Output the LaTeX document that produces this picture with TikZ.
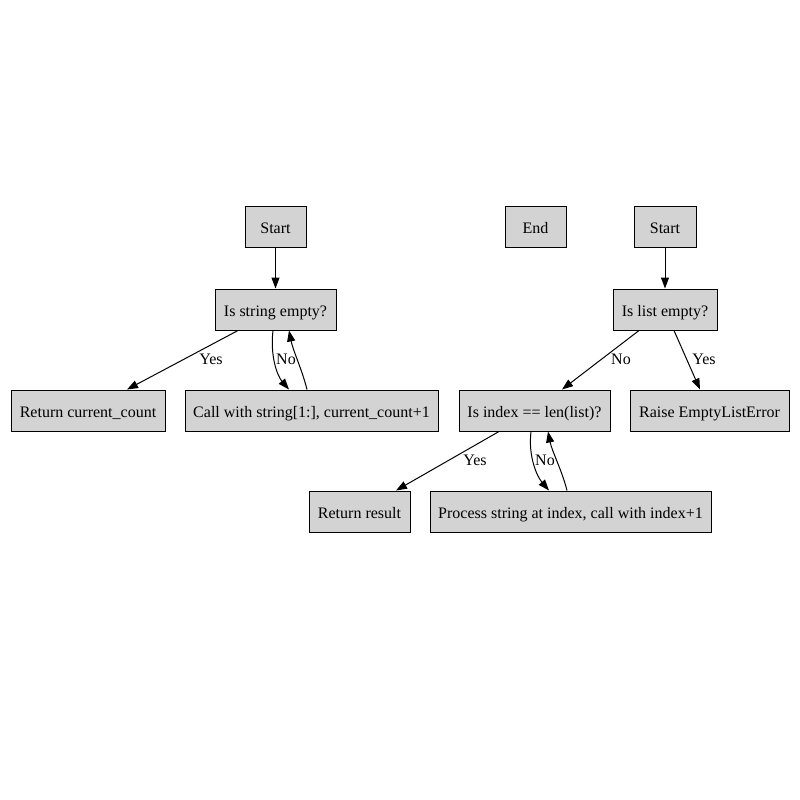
\documentclass[tikz,border=0pt]{standalone}
\usepackage{fontspec}
\setmainfont{Liberation Serif}
\usetikzlibrary{arrows.meta,calc}
\begin{document}
\begin{tikzpicture}[x=1pt,y=-1pt,
  box/.style={draw=black,fill={rgb,255:red,211;green,211;blue,211},line width=1pt,minimum height=41pt,inner sep=0pt,text height=14.5pt,text depth=1.5pt,font=\fontsize{16}{18}\selectfont},
  arr/.style={line width=1pt,-{Triangle[length=11pt,width=8pt]}},
  lbl/.style={inner sep=0pt,text height=14.5pt,text depth=1.5pt,font=\fontsize{16}{18}\selectfont}]
\useasboundingbox[fill=white] (0,0) rectangle (800,800);
% left graph
\node[box,minimum width=61pt] (s1) at (275.5,226.5) {Start};
\node[box,minimum width=121pt] (ise) at (275.5,309.5) {Is string empty?};
\node[box,minimum width=154pt] (rcc) at (88,410.5) {Return current\_count};
\node[box,minimum width=253pt] (cw) at (311.5,410.5) {Call with string[1:], current\_count+1};
% end
\node[box,minimum width=61pt] (e) at (535.5,226.5) {End};
% right graph
\node[box,minimum width=62pt] (s2) at (665,226.5) {Start};
\node[box,minimum width=104pt] (ile) at (665,309.5) {Is list empty?};
\node[box,minimum width=151pt] (ii) at (534.5,410.5) {Is index == len(list)?};
\node[box,minimum width=159pt] (re) at (709.5,410.5) {Raise EmptyListError};
\node[box,minimum width=101pt] (rr) at (359.5,511.5) {Return result};
\node[box,minimum width=281pt] (ps) at (570.5,511.5) {Process string at index, call with index+1};
% edges left
\draw[arr] (s1) -- (ise);
\draw[arr] ([xshift=-37.5pt]ise.south) -- ([xshift=39pt]rcc.north) node[lbl] at (211,358) {Yes};
\draw[arr] ([xshift=-2.5pt]ise.south) .. controls +(-3,25) and +(-12,-14) .. ([xshift=-22.5pt]cw.north) node[lbl] at (286,358) {No};
\draw[arr] ([xshift=-4.5pt]cw.north) .. controls +(-5,-20) and +(4,20) .. ([xshift=13.5pt]ise.south);
% edges right
\draw[arr] (s2) -- (ile);
\draw[arr] ([xshift=-26pt]ile.south) -- ([xshift=27.5pt]ii.north) node[lbl] at (621,358) {No};
\draw[arr] ([xshift=9pt]ile.south) -- ([xshift=-9.5pt]re.north) node[lbl] at (704,358) {Yes};
\draw[arr] ([xshift=-35.5pt]ii.south) -- ([xshift=36.5pt]rr.north) node[lbl] at (475,459) {Yes};
\draw[arr] ([xshift=-3.5pt]ii.south) .. controls +(-3,25) and +(-12,-14) .. ([xshift=-21.5pt]ps.north) node[lbl] at (545,459) {No};
\draw[arr] ([xshift=-3.5pt]ps.north) .. controls +(-5,-20) and +(4,20) .. ([xshift=13.5pt]ii.south);
\end{tikzpicture}
\end{document}
